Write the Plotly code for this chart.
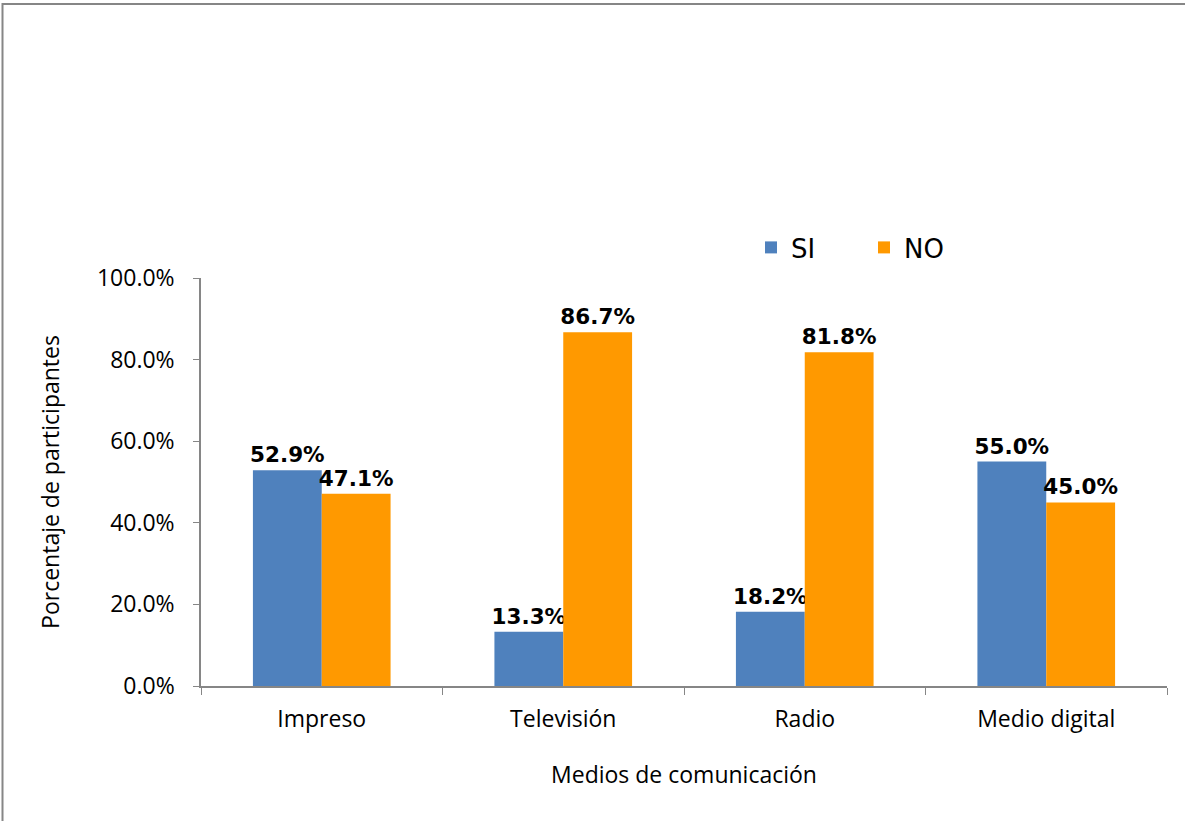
import plotly.graph_objects as go

# Media channels surveyed and share of participants answering SI / NO
categorias = ["Impreso", "Televisión", "Radio", "Medio digital"]
si_valores = [0.529, 0.133, 0.182, 0.550]
no_valores = [0.471, 0.867, 0.818, 0.450]
ticks_y = [0.0, 0.2, 0.4, 0.6, 0.8, 1.0]
ticks_y_texto = ["0.0%", "20.0%", "40.0%", "60.0%", "80.0%", "100.0%"]

AZUL = "#4F81BD"
NARANJA = "#FF9900"
FUENTE_EJES = "'Open Sans', 'Noto Sans', sans-serif"
FUENTE_ETIQ = "'DejaVu Sans', sans-serif"

fig = go.Figure()
for nombre, valores, color in [("SI", si_valores, AZUL), ("NO", no_valores, NARANJA)]:
    fig.add_trace(go.Bar(
        name=nombre, x=categorias, y=valores,
        marker=dict(color=color, line=dict(width=0)),
        text=[f"{v*100:.1f}%" for v in valores],
        textposition="outside",
        constraintext="none",
        textfont=dict(family=FUENTE_ETIQ, size=21.5, color="#000000", weight="bold"),
        cliponaxis=False,
    ))

W, H = 1185, 821
L, R, T, B = 201, 18, 278, 135
pw, ph = W - L - R, H - T - B

def px_x(p):
    return (p - L) / pw

def px_y(p):
    return (H - B - p) / ph

fig.update_layout(
    width=W, height=H,
    margin=dict(l=L, r=R, t=T, b=B),
    paper_bgcolor="white", plot_bgcolor="white",
    barmode="group", bargap=0.43, bargroupgap=0,
    showlegend=True,
    legend=dict(
        orientation="h", x=px_x(751), y=px_y(224), xanchor="left", yanchor="top",
        font=dict(family=FUENTE_ETIQ, size=26, color="#000000"),
        itemwidth=30, traceorder="normal", entrywidth=68,
    ),
    xaxis=dict(
        showline=True, linecolor="#868686", linewidth=1.5,
        ticks="outside", tickson="boundaries", ticklen=7, tickcolor="#868686",
        ticklabelstandoff=12,
        tickfont=dict(family=FUENTE_EJES, size=23, color="#000000"),
        title=dict(text="Medios de comunicación", standoff=34,
                   font=dict(family=FUENTE_EJES, size=23, color="#000000")),
        showgrid=False,
    ),
    yaxis=dict(
        range=[0, 1.0], tickvals=ticks_y, ticktext=ticks_y_texto,
        showline=True, linecolor="#868686", linewidth=1.5,
        ticks="outside", ticklen=6, tickcolor="#868686",
        ticklabelstandoff=14,
        tickfont=dict(family=FUENTE_EJES, size=23, color="#000000"),
        title=dict(text="Porcentaje de participantes", standoff=31,
                   font=dict(family=FUENTE_EJES, size=23, color="#000000")),
        showgrid=False, zeroline=False,
    ),
    shapes=[dict(
        type="rect", xref="paper", yref="paper",
        x0=px_x(2.5), x1=px_x(1200), y0=px_y(840), y1=px_y(4),
        line=dict(color="#868686", width=2), fillcolor="rgba(0,0,0,0)", layer="above",
    )],
)

fig.write_html("out.html")
